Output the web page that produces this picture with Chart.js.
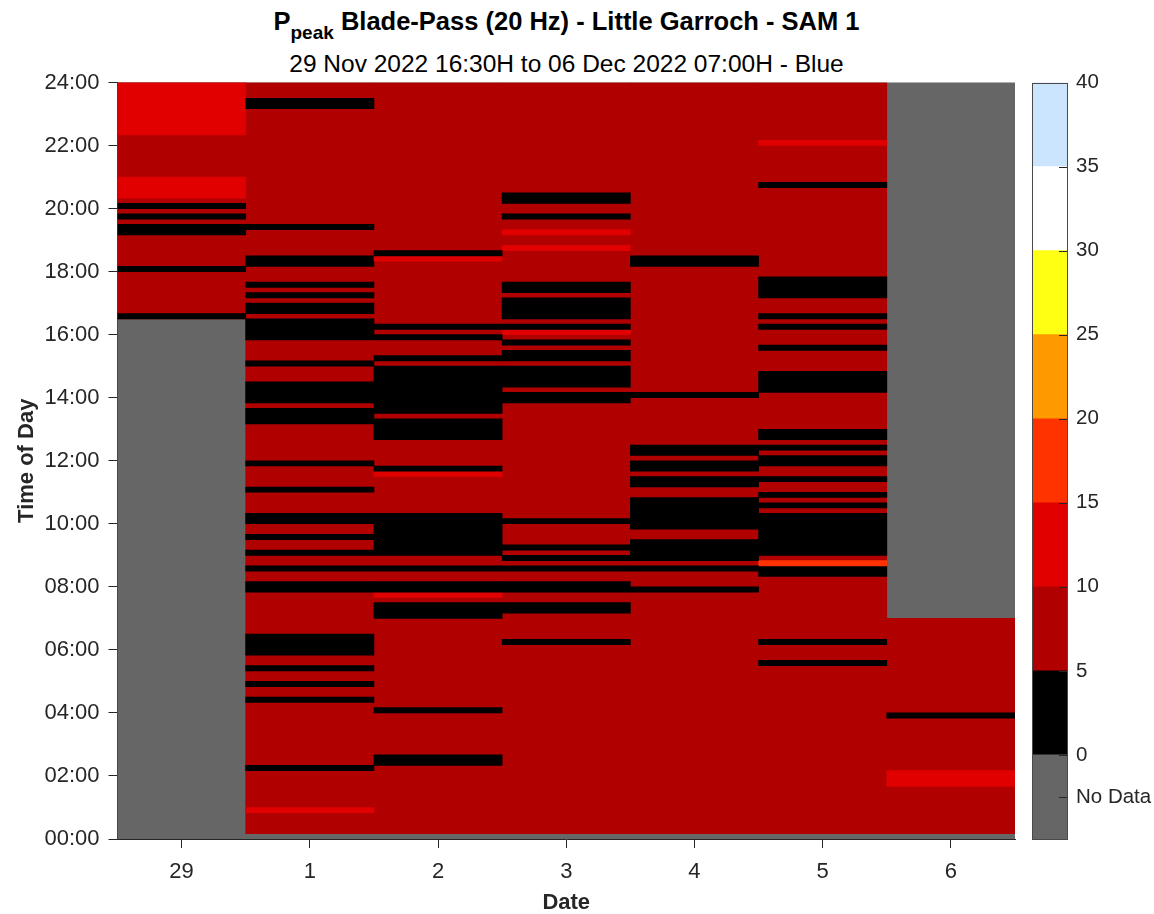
<!DOCTYPE html>
<html>
<head>
<meta charset="utf-8">
<title>Ppeak Blade-Pass (20 Hz) - Little Garroch - SAM 1</title>
<script src="https://cdn.jsdelivr.net/npm/chart.js@4.4.1/dist/chart.umd.min.js"></script>
<style>
  body { margin: 0; background: #fff; }
  #wrap { position: relative; width: 1154px; height: 914px; font-family: 'Liberation Sans', Arial, Helvetica, sans-serif; color: #000; }
  #heat { position: absolute; left: 0; top: 0; }
  #cbar { position: absolute; left: 1020px; top: 0; }
  .ttl { position: absolute; left: 118px; width: 897px; text-align: center; white-space: nowrap; font-size: 24.5px; line-height: 28px; }
  #t1 { top: 7px; font-weight: bold; font-size: 25.5px; }
  #t1 sub { font-size: 19px; vertical-align: baseline; position: relative; top: 9px; }
  #t2 { top: 50px; }
</style>
</head>
<body>
<div id="wrap">
  <div class="ttl" id="t1">P<sub>peak</sub> Blade-Pass (20 Hz) - Little Garroch - SAM 1</div>
  <div class="ttl" id="t2">29 Nov 2022 16:30H to 06 Dec 2022 07:00H - Blue</div>
  <canvas id="heat" width="1154" height="914"></canvas>
  <canvas id="cbar" width="134" height="914"></canvas>
</div>
<script>
const dates = ['29', '1', '2', '3', '4', '5', '6'];

// part of each day that has readings
const recorded = [
  ['16:30', '24:00'], ['00:10', '24:00'], ['00:10', '24:00'], ['00:10', '24:00'],
  ['00:10', '24:00'], ['00:10', '24:00'], ['00:10', '07:00']
];
// level for most of each day
const typical = [7, 7, 7, 7, 7, 7, 7];

// intervals that differ from the typical level: [from, to, level]
const nov29 = [
  ['16:30', '16:40', 3], ['18:00', '18:10', 3], ['19:10', '19:30', 3], ['19:40', '19:50', 3],
  ['20:00', '20:10', 3], ['20:20', '21:00', 12], ['22:20', '24:00', 12]
];
const dec1 = [
  ['23:10', '23:30', 3], ['19:20', '19:30', 3], ['18:10', '18:30', 3], ['17:30', '17:40', 3],
  ['17:10', '17:20', 3], ['16:40', '17:00', 3], ['15:50', '16:30', 3], ['15:00', '15:10', 3],
  ['13:50', '14:30', 3], ['13:10', '13:40', 3], ['11:50', '12:00', 3], ['11:00', '11:10', 3],
  ['10:00', '10:20', 3], ['09:30', '09:40', 3], ['09:00', '09:10', 3], ['08:30', '08:40', 3],
  ['07:50', '08:10', 3], ['05:50', '06:30', 3], ['05:20', '05:30', 3], ['04:50', '05:00', 3],
  ['04:20', '04:30', 3], ['02:10', '02:20', 3], ['00:50', '01:00', 12]
];
const dec2 = [
  ['18:30', '18:40', 3], ['18:20', '18:30', 12], ['16:10', '16:20', 3], ['15:50', '16:00', 3],
  ['15:10', '15:20', 3], ['13:30', '15:00', 3], ['12:40', '13:20', 3], ['11:40', '11:50', 3],
  ['11:30', '11:40', 12], ['09:00', '10:20', 3], ['08:30', '08:40', 3], ['07:50', '08:10', 3],
  ['07:40', '07:50', 12], ['07:00', '07:30', 3], ['04:00', '04:10', 3], ['02:20', '02:40', 3]
];
const dec3 = [
  ['20:10', '20:30', 3], ['19:40', '19:50', 3], ['19:10', '19:20', 12], ['18:40', '18:50', 12],
  ['17:20', '17:40', 3], ['16:30', '17:10', 3], ['16:10', '16:20', 3], ['16:00', '16:10', 12],
  ['15:40', '15:50', 3], ['15:10', '15:30', 3], ['14:20', '15:00', 3], ['13:50', '14:10', 3],
  ['10:00', '10:10', 3], ['09:10', '09:20', 3], ['08:50', '09:00', 3], ['08:30', '08:40', 3],
  ['07:50', '08:10', 3], ['07:10', '07:30', 3], ['06:10', '06:20', 3]
];
const dec4 = [
  ['18:10', '18:30', 3], ['14:00', '14:10', 3], ['12:10', '12:30', 3], ['11:40', '12:00', 3],
  ['11:10', '11:30', 3], ['09:50', '10:50', 3], ['08:50', '09:30', 3], ['08:30', '08:40', 3],
  ['07:50', '08:00', 3]
];
const dec5 = [
  ['22:00', '22:10', 12], ['20:40', '20:50', 3], ['17:10', '17:50', 3], ['16:30', '16:40', 3],
  ['16:10', '16:20', 3], ['15:30', '15:40', 3], ['14:10', '14:50', 3], ['12:40', '13:00', 3],
  ['12:20', '12:30', 3], ['11:50', '12:10', 3], ['11:20', '11:30', 3], ['10:50', '11:00', 3],
  ['10:30', '10:40', 3], ['09:00', '10:20', 3], ['08:40', '08:50', 17], ['08:20', '08:40', 3],
  ['06:10', '06:20', 3], ['05:30', '05:40', 3]
];
const dec6 = [
  ['03:50', '04:00', 3], ['01:40', '02:10', 12]
];
const events = [nov29, dec1, dec2, dec3, dec4, dec5, dec6];

const levelEdges = [0, 5, 10, 15, 20, 25, 30, 35, 40];
const levelColors = ['#000000', '#B00000', '#E00000', '#FF3300', '#FF9900', '#FFFF13', '#FFFFFF', '#CCE5FF'];
const noDataColor = '#666666';
const colorbarTicks = [-2.5, 0, 5, 10, 15, 20, 25, 30, 35, 40];

const txt = '#262626';
const font = { family: "'Liberation Sans', Arial, Helvetica, sans-serif", size: 22 };
const boldFont = { ...font, weight: 'bold', lineHeight: 1 };
const barFont = { ...font, size: 20.5 };

function hours(s) {
  const [h, m] = s.split(':').map(Number);
  return h + m / 60;
}

function colorFor(v) {
  for (let i = 0; i < levelColors.length; i++) {
    if (v < levelEdges[i + 1]) return levelColors[i];
  }
  return levelColors[levelColors.length - 1];
}

Chart.defaults.animation = false;
Chart.defaults.color = txt;

// base layer first, then one layer per event slot
const datasets = [{
  data: dates.map((d, i) => ({ x: d, y: [hours(recorded[i][0]), hours(recorded[i][1])] })),
  backgroundColor: typical.map(colorFor),
  order: 1
}];
const maxEvents = Math.max(...events.map(e => e.length));
for (let k = 0; k < maxEvents; k++) {
  const data = [], colors = [];
  events.forEach((list, i) => {
    if (list[k]) {
      data.push({ x: dates[i], y: [hours(list[k][0]), hours(list[k][1])] });
      colors.push(colorFor(list[k][2]));
    }
  });
  datasets.push({ data, backgroundColor: colors, order: 0 });
}

const noDataFill = {
  id: 'noDataFill',
  beforeDatasetsDraw(chart) {
    const { ctx, chartArea: a } = chart;
    ctx.save();
    ctx.fillStyle = noDataColor;
    ctx.fillRect(a.left, a.top, a.right - a.left, a.bottom - a.top);
    ctx.restore();
  }
};

new Chart(document.getElementById('heat'), {
  type: 'bar',
  data: { labels: dates, datasets },
  options: {
    responsive: false,
    devicePixelRatio: 1,
    grouped: false,
    barPercentage: 1,
    categoryPercentage: 1,
    borderWidth: 0,
    layout: { padding: { left: 0, top: 82.5, right: 139, bottom: 0 } },
    plugins: { legend: { display: false }, tooltip: { enabled: false } },
    scales: {
      x: {
        offset: true,
        grid: { offset: false, drawOnChartArea: false, tickLength: 9, color: txt },
        border: { color: txt },
        ticks: { font, color: txt, padding: 11, maxRotation: 0 },
        title: { display: true, text: 'Date', font: boldFont, color: txt, padding: { top: 0, bottom: 0 } },
        afterFit(s) { s.height = 75; }
      },
      y: {
        min: 0,
        max: 24,
        grid: { drawOnChartArea: false, tickLength: 9, color: txt },
        border: { color: txt },
        ticks: {
          stepSize: 2, font, color: txt, padding: 9,
          callback: v => String(v).padStart(2, '0') + ':00'
        },
        title: { display: true, text: 'Time of Day', font: boldFont, color: txt, padding: { top: 16, bottom: 0 } },
        afterFit(s) { s.width = 117.5; }
      }
    }
  },
  plugins: [noDataFill]
});

// colour scale
const bandLows = [-5, ...levelEdges.slice(0, -1)];
const bandHighs = levelEdges;
const bandColors = [noDataColor, ...levelColors];

const innerTicks = {
  id: 'innerTicks',
  afterDraw(chart) {
    const { ctx, chartArea: a, scales: { y } } = chart;
    ctx.save();
    ctx.strokeStyle = txt;
    ctx.lineWidth = 1;
    y.ticks.forEach(t => {
      const py = Math.round(y.getPixelForValue(t.value)) + 0.5;
      ctx.beginPath();
      ctx.moveTo(a.right - 9, py);
      ctx.lineTo(a.right, py);
      ctx.stroke();
    });
    ctx.strokeStyle = '#4a4a4a';
    ctx.strokeRect(Math.round(a.left) + 0.5, Math.round(a.top) + 0.5,
      Math.round(a.right - a.left) - 1, Math.round(a.bottom - a.top) - 1);
    ctx.restore();
  }
};

new Chart(document.getElementById('cbar'), {
  type: 'bar',
  data: {
    labels: ['scale'],
    datasets: bandLows.map((lo, i) => ({
      data: [{ x: 'scale', y: [lo, bandHighs[i]] }],
      backgroundColor: bandColors[i]
    }))
  },
  options: {
    responsive: false,
    devicePixelRatio: 1,
    grouped: false,
    barPercentage: 1,
    categoryPercentage: 1,
    borderWidth: 0,
    layout: { padding: { left: 12, top: 82.5, right: 0, bottom: 75 } },
    plugins: { legend: { display: false }, tooltip: { enabled: false } },
    scales: {
      x: { display: false, offset: true },
      y: {
        position: 'right',
        min: -5,
        max: 40,
        grid: { display: false },
        border: { display: false },
        afterBuildTicks(s) { s.ticks = colorbarTicks.map(v => ({ value: v })); },
        ticks: {
          font: barFont, color: txt, padding: 0,
          callback: v => (v < 0 ? 'No Data' : String(v))
        },
        afterFit(s) { s.width = 86; }
      }
    }
  },
  plugins: [innerTicks]
});
</script>
</body>
</html>
